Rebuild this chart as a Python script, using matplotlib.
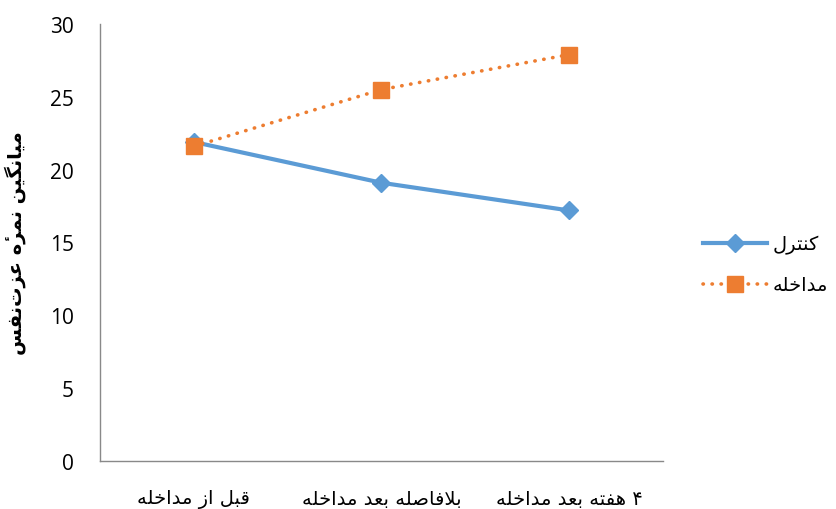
import matplotlib
matplotlib.use('Agg')
import matplotlib.pyplot as plt

# داده‌ها
categories = ['قبل از مداخله', 'بلافاصله بعد مداخله', '۴ هفته بعد مداخله']
control = [21.9, 19.1, 17.2]
intervention = [21.6, 25.5, 27.9]
series_names = ['کنترل', 'مداخله']
y_label = 'میانگین نمرۀ عزت‌نفس'
y_ticks = [0, 5, 10, 15, 20, 25, 30]

# matplotlib متن راست به چپ را شکل نمی‌دهد، پس حروف را خودمان شکل می‌دهیم
# (isolated, final, initial, medial) یا (isolated, final) برای حروف بی‌اتصال از چپ
FORMS = {
    'ا': '\uFE8D\uFE8E', 'د': '\uFEA9\uFEAA', 'ر': '\uFEAD\uFEAE',
    'ز': '\uFEAF\uFEB0', '\uFEFB': '\uFEFB\uFEFC',
    'ب': '\uFE8F\uFE90\uFE91\uFE92', 'ت': '\uFE95\uFE96\uFE97\uFE98',
    'خ': '\uFEA5\uFEA6\uFEA7\uFEA8', 'س': '\uFEB1\uFEB2\uFEB3\uFEB4',
    'ص': '\uFEB9\uFEBA\uFEBB\uFEBC', 'ع': '\uFEC9\uFECA\uFECB\uFECC',
    'ف': '\uFED1\uFED2\uFED3\uFED4', 'ق': '\uFED5\uFED6\uFED7\uFED8',
    'ل': '\uFEDD\uFEDE\uFEDF\uFEE0', 'م': '\uFEE1\uFEE2\uFEE3\uFEE4',
    'ن': '\uFEE5\uFEE6\uFEE7\uFEE8', 'ه': '\uFEE9\uFEEA\uFEEB\uFEEC',
    'ک': '\uFB8E\uFB8F\uFB90\uFB91', 'گ': '\uFB92\uFB93\uFB94\uFB95',
    'ی': '\uFBFC\uFBFD\uFBFE\uFBFF',
}
MARKS = '\u0654'


def rtl(text):
    text = text.replace('ۀ', 'ه\u0654').replace('لا', '\uFEFB')
    chars = [c for c in text if c not in MARKS]
    marks = {}
    j = -1
    for c in text:
        if c in MARKS:
            marks[j] = c
        else:
            j += 1
    out = []
    for i, c in enumerate(chars):
        if c not in FORMS:
            g = '' if c == '\u200c' else c
        else:
            f = FORMS[c]
            prev = chars[i - 1] if i > 0 else ''
            nxt = chars[i + 1] if i + 1 < len(chars) else ''
            pj = prev in FORMS and len(FORMS[prev]) == 4
            nj = nxt in FORMS and len(f) == 4
            if pj and nj:
                g = f[3]
            elif pj:
                g = f[1]
            elif nj:
                g = f[2]
            else:
                g = f[0]
        # نشانه (همزه) بعد از حرف پایه در ترتیب دیداری می‌آید
        out.append(marks.get(i, '') + g)
    return ''.join(out)[::-1]


fig = plt.figure(figsize=(8.36, 5.10), dpi=100)
ax = fig.add_axes([0.1196, 0.0941, 0.6734, 0.8569])

x = range(len(categories))
ax.plot(x, control, color='#5B9BD5', lw=3, marker='D', markersize=9,
        label=rtl(series_names[0]))
ax.plot(x, intervention, color='#ED7D31', lw=2.6, linestyle=(0, (0.1, 2.4)),
        dash_capstyle='round', marker='s', markersize=11.5, label=rtl(series_names[1]))

ax.set_xlim(-0.5, 2.5)
ax.set_ylim(0, 30)
ax.set_yticks(y_ticks)
ax.set_yticklabels([str(v) for v in y_ticks], fontsize=15, family='Open Sans')
ax.set_xticks(list(x))
ax.set_xticklabels([rtl(c) for c in categories], fontsize=14, family='DejaVu Sans')
ax.tick_params(axis='both', length=0)
ax.tick_params(axis='y', pad=19)
ax.tick_params(axis='x', pad=20)

for s in ['top', 'right']:
    ax.spines[s].set_visible(False)
for s in ['left', 'bottom']:
    ax.spines[s].set_color('#898989')
    ax.spines[s].set_linewidth(1)

ax.set_ylabel(rtl(y_label), fontsize=14, fontweight='bold', family='DejaVu Sans', labelpad=17)

ax.legend(loc='center left', bbox_to_anchor=(1.04, 0.45), frameon=False,
          prop={'family': 'DejaVu Sans', 'size': 14}, handlelength=3.3,
          labelspacing=1.1, handletextpad=0.3, borderaxespad=0.5)

fig.savefig('out.png', dpi=100)
